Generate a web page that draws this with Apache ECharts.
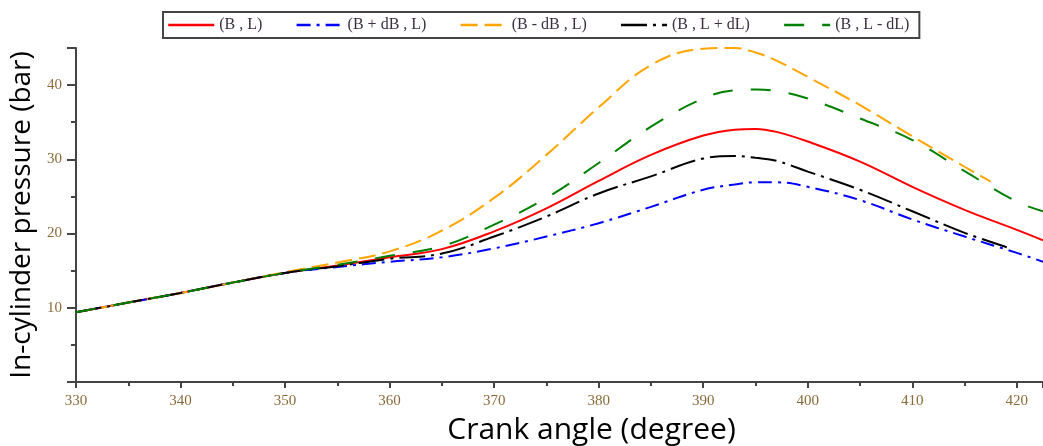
<!DOCTYPE html>
<html>
<head>
<meta charset="utf-8">
<script src="https://cdn.jsdelivr.net/npm/echarts@6/dist/echarts.min.js"></script>
<style>
html,body{margin:0;padding:0;background:#fff;}
#main{width:1043px;height:446px;}
</style>
</head>
<body>
<div id="main"></div>
<script>
// crank angle (degree)
var angle = [330, 335, 340, 345, 350, 355, 360, 365, 370, 375, 380, 385, 390, 393, 395, 397, 400, 405, 410, 415, 420, 422.5];
// in-cylinder pressure (bar)
var pBL      = [9.4, 10.7, 12.0, 13.4, 14.7, 15.7, 16.8, 17.9, 20.3, 23.4, 27.1, 30.6, 33.2, 34.0, 34.1, 33.7, 32.4, 29.7, 26.3, 23.2, 20.5, 19.1];
var pBplus   = [9.4, 10.7, 12.0, 13.4, 14.7, 15.5, 16.2, 16.8, 18.0, 19.6, 21.4, 23.6, 25.9, 26.6, 26.9, 26.9, 26.3, 24.5, 21.9, 19.6, 17.4, 16.2];
var pBminus  = [9.4, 10.7, 12.0, 13.4, 14.8, 16.1, 17.6, 20.4, 24.8, 30.6, 37.0, 42.7, 44.9, 45.0, 44.4, 43.3, 41.1, 37.3, 33.1, 29.0, null, null];
var pLplus   = [9.4, 10.7, 12.0, 13.4, 14.7, 15.6, 16.6, 17.3, 19.6, 22.3, 25.4, 27.7, 30.1, 30.45, 30.2, 29.8, 28.35, 25.9, 23.0, 20.1, null, null];
var pLminus  = [9.4, 10.7, 12.0, 13.4, 14.7, 15.8, 17.0, 18.3, 21.2, 24.8, 29.5, 34.4, 38.2, 39.3, 39.4, 39.2, 38.2, 35.5, 32.6, 28.4, 24.3, 23.0];
// tail points where curves stop early
var orangeEnd = [417.5, 27.0];
var blackEnd = [419.4, 18.0];

var names = ['(B , L)', '(B + dB , L)', '(B - dB , L)', '(B , L + dL)', '(B , L - dL)'];

function pairs(vals, tail){
  var out = [];
  for (var i = 0; i < angle.length; i++) {
    if (vals[i] != null) out.push([angle[i], vals[i]]);
  }
  if (tail) out.push(tail);
  return out;
}

function mkSeries(name, data, color, dash){
  return {
    name: name,
    type: 'line',
    smooth: 0.4,
    symbol: 'none',
    data: data,
    lineStyle: { color: color, width: 2, type: dash },
    itemStyle: { color: color }
  };
}

var tickColor = '#8a6a3a';
var chart = echarts.init(document.getElementById('main'));
chart.setOption({
  animation: false,
  legend: {
    data: names,
    left: 163,
    top: 12,
    padding: [5, 10, 5, 4],
    borderColor: '#444',
    borderWidth: 2,
    itemWidth: 46,
    itemHeight: 12,
    itemGap: 33,
    itemStyle: { opacity: 0 },
    lineStyle: { width: 2.5 },
    textStyle: { fontFamily: 'Liberation Serif', fontSize: 16, color: '#3a3040' }
  },
  grid: { left: 76, right: 0, top: 48, bottom: 64, outerBoundsMode: 'none', containLabel: false },
  xAxis: {
    type: 'value',
    min: 330,
    max: 422.5,
    interval: 10,
    name: 'Crank angle (degree)',
    nameLocation: 'middle',
    nameGap: 33,
    nameTextStyle: { fontFamily: 'Open Sans', fontSize: 30, color: '#000', padding: [0, 0, 0, 64] },
    axisLine: { lineStyle: { color: '#444', width: 2 } },
    axisTick: { show: true, length: 6, lineStyle: { color: '#444', width: 2 } },
    minorTick: { show: true, splitNumber: 2, length: 4, lineStyle: { color: '#444', width: 2 } },
    axisLabel: { fontFamily: 'Liberation Serif', fontSize: 15, color: tickColor, margin: 12,
      showMaxLabel: false },
    splitLine: { show: false }
  },
  yAxis: {
    type: 'value',
    min: 0,
    max: 45,
    interval: 10,
    name: 'In-cylinder pressure (bar)',
    nameLocation: 'middle',
    nameGap: 38,
    nameTextStyle: { fontFamily: 'Open Sans', fontSize: 28, color: '#000' },
    axisLine: { show: true, lineStyle: { color: '#444', width: 2 } },
    axisTick: { show: true, length: 9, lineStyle: { color: '#444', width: 2 } },
    minorTick: { show: true, splitNumber: 2, length: 5, lineStyle: { color: '#444', width: 2 } },
    axisLabel: { fontFamily: 'Liberation Serif', fontSize: 15, color: tickColor, margin: 14,
      showMaxLabel: false,
      formatter: function (v) { return v === 0 ? '' : v; } },
    splitLine: { show: false }
  },
  series: [
    mkSeries(names[0], pairs(pBL), '#ff0000', 'solid'),
    mkSeries(names[1], pairs(pBplus), '#0000ff', [14, 6, 3, 6]),
    mkSeries(names[2], pairs(pBminus, orangeEnd), '#ffa500', [17, 7]),
    mkSeries(names[3], pairs(pLplus, blackEnd), '#000000', [26, 6, 3, 6]),
    mkSeries(names[4], pairs(pLminus), '#008000', [20, 18])
  ]
});
</script>
</body>
</html>
